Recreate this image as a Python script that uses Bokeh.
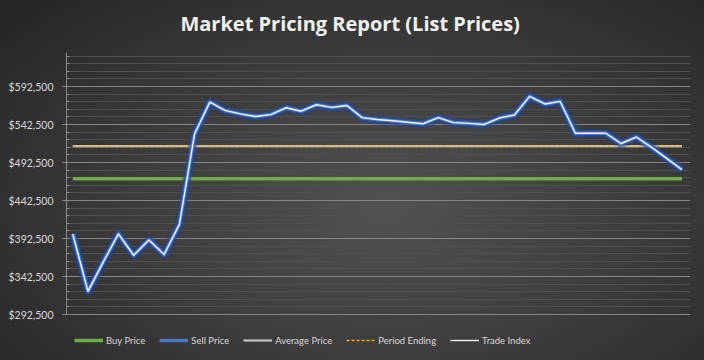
from bokeh.plotting import figure
from bokeh.models import (Range1d, FixedTicker, NumeralTickFormatter, Legend, LegendItem, Label)
from bokeh.embed import file_html
from bokeh.resources import INLINE

# ---------------- data ----------------
periods = list(range(1, 42))
sell_price = [398500, 323000, 361500, 398500, 370500, 390500, 371500, 411000,
              530000, 572000, 561000, 556500, 553000, 555500, 564500, 560000,
              568500, 565000, 567500, 551500, 549000, 547500, 545500, 543500,
              551500, 545000, 544000, 542500, 551000, 555000, 579500, 569500,
              573000, 531000, 531000, 531000, 517500, 526000, 512500, 498000,
              483000]
trade_index = sell_price
buy_price = 471000
average_price = 514000
period_ending = 514000
y_ticks = [292500, 342500, 392500, 442500, 492500, 542500, 592500]
y_minor_ticks = [302500, 312500, 322500, 332500, 352500, 362500, 372500, 382500,
                 402500, 412500, 422500, 432500, 452500, 462500, 472500, 482500,
                 502500, 512500, 522500, 532500, 552500, 562500, 572500, 582500,
                 602500, 612500, 622500, 632500]
y_axis_min = 292500
y_axis_max = 637240
title_text = "Market Pricing Report (List Prices)"
legend_labels = ["Buy Price", "Sell Price", "Average Price", "Period Ending", "Trade Index"]

FONT = "Lato"

# the frame spans the full height so that the title and legend can sit around the drawn axis
p = figure(width=704, height=360, output_backend="svg", toolbar_location=None,
           x_range=Range1d(0.59, 41.56), y_range=Range1d(231974, 705658),
           min_border_left=66, min_border_right=14, min_border_top=0, min_border_bottom=0)

p.styles = {"background": "radial-gradient(ellipse 70% 80% at 55% 58%, #525252 0%, #3d3d3d 50%, #272727 100%)"}
p.background_fill_alpha = 0
p.border_fill_alpha = 0
p.outline_line_color = None

# title (as a label placed above the axis top)
title = Label(x=8.07, y=337, x_units="data", y_units="screen", text=title_text,
              text_color="#f2f2f2", text_font="Open Sans", text_font_style="bold",
              text_font_size="20px", text_align="left", text_baseline="alphabetic")
p.add_layout(title)

# axes
p.xaxis.visible = False
p.xgrid.visible = False
ax = p.yaxis[0]
ax.bounds = (y_axis_min, y_axis_max)
ax.ticker = FixedTicker(ticks=y_ticks, minor_ticks=y_minor_ticks)
ax.formatter = NumeralTickFormatter(format="$0,0")
ax.axis_line_color = "#8c8c8c"
ax.major_tick_line_color = "#8c8c8c"
ax.minor_tick_line_color = "#8c8c8c"
ax.major_tick_out = 4
ax.major_tick_in = 0
ax.minor_tick_out = 0
ax.minor_tick_in = 3
ax.major_label_text_color = "#d9d9d9"
ax.major_label_text_font = FONT
ax.major_label_text_font_size = "10.5px"
ax.major_label_standoff = 9

p.ygrid.ticker = FixedTicker(ticks=y_ticks, minor_ticks=y_minor_ticks)
p.ygrid.grid_line_color = "#858585"
p.ygrid.grid_line_width = 1
p.ygrid.minor_grid_line_color = "#505050"
p.ygrid.minor_grid_line_alpha = 1.0

x_ends = [periods[0], periods[-1]]

# buy price
r_buy = p.line(x_ends, [buy_price, buy_price], line_color="#70ad47", line_width=3.5)
# average + period ending
r_avg = p.line(x_ends, [average_price, average_price], line_color="#c4c4c4", line_width=2.2)
r_per = p.line(x_ends, [period_ending, period_ending], line_color="#f0b000", line_width=1.3,
               line_dash="3 2")

# sell price glow + trade index core
p.line(periods, sell_price, line_color="#1e3f88", line_width=10, line_alpha=0.3, line_join="round")
p.line(periods, sell_price, line_color="#2552a8", line_width=6.5, line_alpha=0.6, line_join="round")
r_sell = p.line(periods, sell_price, line_color="#4a7fd4", line_width=3.5, line_alpha=0.9,
                line_join="round")
r_trade = p.line(periods, trade_index, line_color="#f4f4f4", line_width=1.4, line_join="round")

legend = Legend(items=[
    LegendItem(label=legend_labels[0], renderers=[r_buy]),
    LegendItem(label=legend_labels[1], renderers=[r_sell]),
    LegendItem(label=legend_labels[2], renderers=[r_avg]),
    LegendItem(label=legend_labels[3], renderers=[r_per]),
    LegendItem(label=legend_labels[4], renderers=[r_trade]),
], orientation="horizontal", location=(8, 14))
legend.background_fill_alpha = 0
legend.border_line_alpha = 0
legend.label_text_color = "#d9d9d9"
legend.label_text_font = FONT
legend.label_text_font_size = "9.5px"
legend.glyph_width = 29
legend.glyph_height = 12
legend.label_height = 12
legend.label_standoff = 3
legend.spacing = 14
legend.padding = 0
legend.margin = 0
p.add_layout(legend, "center")

open("out.html", "w").write(file_html(p, INLINE))
